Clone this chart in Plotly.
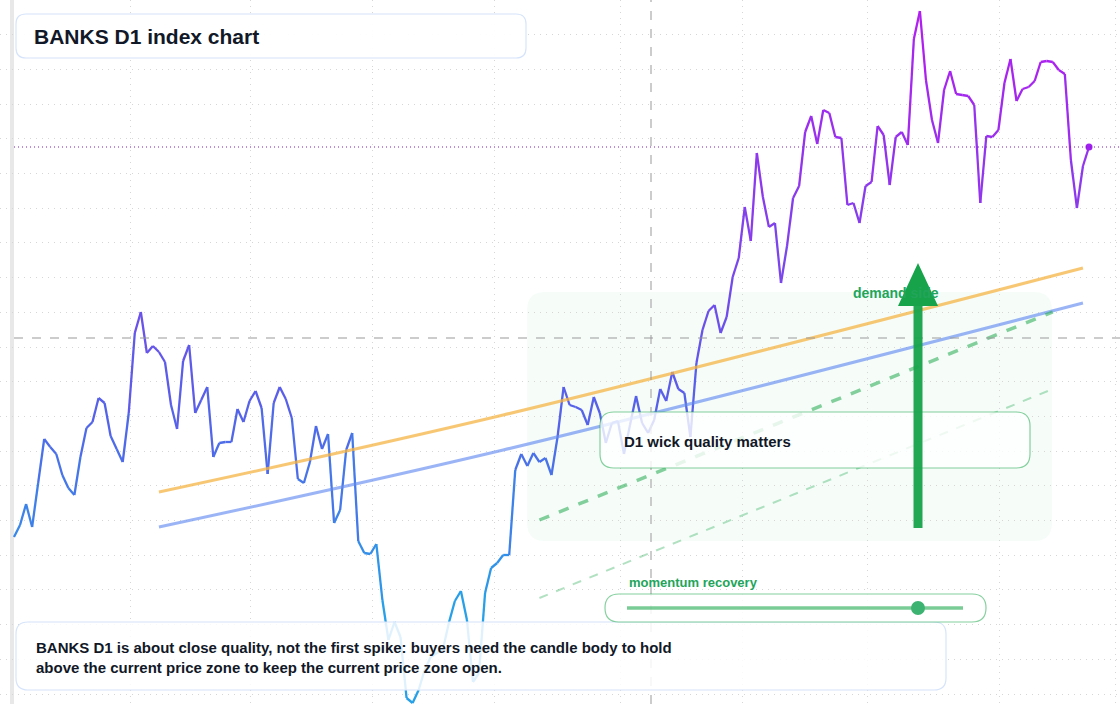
import plotly.graph_objects as go

W, H = 1120, 704

# closing values (chart units), one per D1 bar
close = [704 - y for y in [
    537, 525, 504, 527, 483, 439, 447, 454, 475, 488, 495, 457, 428, 422, 398, 403, 436, 449, 462, 413,
    333, 312, 353, 346, 352, 362, 405, 429, 361, 345, 413, 400, 387, 457, 443, 442, 442, 409, 422, 401,
    391, 408, 474, 403, 387, 399, 418, 479, 483, 462, 426, 449, 434, 523, 510, 450, 433, 541, 553, 554,
    544, 600, 640, 622, 637, 698, 703, 690, 670, 657, 653, 650, 623, 601, 591, 620, 682, 673, 593, 568,
    563, 555, 555, 470, 454, 466, 453, 462, 458, 475, 437, 387, 405, 407, 410, 425, 397, 413, 443, 423,
    421, 454, 425, 396, 423, 433, 420, 389, 401, 372, 389, 393, 437, 363, 330, 311, 305, 333, 317, 277,
    258, 207, 241, 153, 197, 227, 223, 283, 246, 198, 186, 132, 116, 144, 110, 113, 137, 138, 205, 203,
    223, 186, 182, 126, 135, 185, 137, 132, 145, 39, 11, 80, 120, 143, 90, 71, 94, 95, 96, 105,
    203, 136, 137, 130, 83, 59, 101, 89, 87, 81, 62, 61, 62, 70, 74, 160, 208, 166, 147]]

# trend channel (bar index, value)
upper_x = [24, 81, 177]
upper_y = [212, 289, 436]
lower_x = [24, 81, 177]
lower_y = [177, 254, 401]
support_x = [87, 172]
support_y = [184, 392]
support2_x = [87, 172]
support2_y = [106, 315]

n = len(close)
x0_px, x1_px = 14, 1089
step = (x1_px - x0_px) / (n - 1)
xr = [-x0_px / step, (W - x0_px) / step]


def bar_at(px):
    return (px - x0_px) / step


def mix(c1, c2, t):
    return "#%02x%02x%02x" % tuple(int(c1[i] + (c2[i] - c1[i]) * t) for i in range(3))


def line_color(v):
    cyan, blue, purple = (40, 160, 232), (88, 96, 232), (176, 32, 240)
    if v < 300:
        return mix(cyan, blue, max(0, (v - 100) / 200))
    return mix(blue, purple, min(1, (v - 300) / 360))


def rrect(x0, y0, x1, y1, r):
    # rounded rectangle in paper coords from pixel box
    X = lambda x: x / W
    Y = lambda y: 1 - y / H
    return (f"M{X(x0+r)},{Y(y0)} L{X(x1-r)},{Y(y0)} Q{X(x1)},{Y(y0)} {X(x1)},{Y(y0+r)} "
            f"L{X(x1)},{Y(y1-r)} Q{X(x1)},{Y(y1)} {X(x1-r)},{Y(y1)} L{X(x0+r)},{Y(y1)} "
            f"Q{X(x0)},{Y(y1)} {X(x0)},{Y(y1-r)} L{X(x0)},{Y(y0+r)} Q{X(x0)},{Y(y0)} {X(x0+r)},{Y(y0)} Z")


fig = go.Figure()

# price line, colored by level
for i in range(n - 1):
    fig.add_trace(go.Scatter(x=[i, i + 1], y=[close[i], close[i + 1]], mode="lines",
                             line=dict(color=line_color((close[i] + close[i + 1]) / 2), width=2.3),
                             hoverinfo="skip"))

fig.add_trace(go.Scatter(x=upper_x, y=upper_y, mode="lines", line=dict(color="rgba(245,180,70,0.75)", width=3, shape="spline")))
fig.add_trace(go.Scatter(x=lower_x, y=lower_y, mode="lines", line=dict(color="rgba(100,140,240,0.65)", width=3, shape="spline")))
fig.add_trace(go.Scatter(x=support_x, y=support_y, mode="lines", line=dict(color="rgba(34,170,80,0.55)", width=3.5, dash="dash")))
fig.add_trace(go.Scatter(x=support2_x, y=support2_y, mode="lines", line=dict(color="rgba(34,170,80,0.35)", width=2, dash="dash")))
fig.add_trace(go.Scatter(x=[n - 1], y=[close[-1]], mode="markers", marker=dict(color="#a020f0", size=7)))

shapes = [
    # left strip
    dict(type="rect", xref="paper", yref="paper", x0=10 / W, x1=14 / W, y0=0, y1=1, fillcolor="#e8e8e8", line_width=0, layer="below"),
    # demand zone
    dict(type="path", xref="paper", yref="paper", path=rrect(527, 292, 1052, 541, 18), fillcolor="rgba(34,197,94,0.04)", line_width=0, layer="below"),
    # crosshair
    dict(type="line", xref="x", yref="paper", x0=bar_at(651), x1=bar_at(651), y0=0, y1=1, line=dict(color="#999", width=1, dash="dash")),
    dict(type="line", xref="paper", yref="y", x0=14 / W, x1=1, y0=704 - 338, y1=704 - 338, line=dict(color="#999", width=1, dash="dash")),
    # last price
    dict(type="line", xref="paper", yref="y", x0=14 / W, x1=1, y0=close[-1], y1=close[-1], line=dict(color="#7a1fb0", width=1, dash="1px,3px")),
    # boxes
    dict(type="path", xref="paper", yref="paper", path=rrect(16, 14, 526, 58, 10), fillcolor="rgba(255,255,255,0.95)", line=dict(color="#d6e4fb", width=1.2)),
    dict(type="path", xref="paper", yref="paper", path=rrect(600, 412, 1030, 468, 14), fillcolor="rgba(255,255,255,0.8)", line=dict(color="rgba(34,170,80,0.55)", width=1.2)),
    dict(type="path", xref="paper", yref="paper", path=rrect(16, 622, 946, 690, 12), fillcolor="rgba(255,255,255,0.85)", line=dict(color="#d6e4fb", width=1.2)),
    dict(type="path", xref="paper", yref="paper", path=rrect(605, 594, 986, 622, 14), fillcolor="rgba(255,255,255,0.85)", line=dict(color="rgba(34,170,80,0.55)", width=1.2)),
    dict(type="line", xref="paper", yref="paper", x0=627 / W, x1=963 / W, y0=1 - 608 / H, y1=1 - 608 / H, line=dict(color="rgba(34,170,80,0.6)", width=3.5)),
    dict(type="circle", xref="paper", yref="paper", x0=911 / W, x1=925 / W, y0=1 - 601 / H, y1=1 - 615 / H, fillcolor="#3cb371", line_width=0),
    # arrow
    dict(type="line", xref="paper", yref="paper", x0=918 / W, x1=918 / W, y0=1 - 528 / H, y1=1 - 300 / H, line=dict(color="rgba(22,163,74,0.95)", width=9)),
    dict(type="path", xref="paper", yref="paper", path=f"M{898/W},{1-306/H} L{938/W},{1-306/H} L{918/W},{1-263/H} Z", fillcolor="#16a34a", line_width=0),
]

annotations = [
    dict(text="<b>BANKS D1 index chart</b>", x=32 / W, y=1 - 36 / H, xanchor="left", yanchor="middle", font=dict(size=21, color="#111827")),
    dict(text="<b>D1 wick quality matters</b>", x=622 / W, y=1 - 441 / H, xanchor="left", yanchor="middle", font=dict(size=15, color="#111827")),
    dict(text="<b>demand side</b>", x=851 / W, y=1 - 293 / H, xanchor="left", yanchor="middle", font=dict(size=14, color="#22a55a")),
    dict(text="<b>momentum recovery</b>", x=627 / W, y=1 - 582 / H, xanchor="left", yanchor="middle", font=dict(size=13, color="#22a55a")),
    dict(text="<b>BANKS D1 is about close quality, not the first spike: buyers need the candle body to hold<br>above the current price zone to keep the current price zone open.</b>",
         x=34 / W, y=1 - 657 / H, xanchor="left", yanchor="middle", align="left", font=dict(size=15, color="#111827")),
]
for a in annotations:
    a.update(xref="paper", yref="paper", showarrow=False)

grid_y = [704 - 34.7 * k for k in range(1, 21)]
grid_x = [bar_at(p) for p in [130, 250, 372, 494, 620, 742, 867, 999, 1120 - 5]]

fig.update_layout(
    width=W, height=H, margin=dict(l=0, r=0, t=0, b=0),
    paper_bgcolor="white", plot_bgcolor="white", showlegend=False,
    font=dict(family="Liberation Sans, Arial, sans-serif"),
    shapes=shapes, annotations=annotations,
    xaxis=dict(range=xr, tickvals=grid_x, showticklabels=False, showgrid=True, gridcolor="#d6d6d6", griddash="1px,5px", zeroline=False),
    yaxis=dict(range=[0, H], tickvals=grid_y, showticklabels=False, showgrid=True, gridcolor="#d6d6d6", griddash="1px,5px", zeroline=False),
)
fig.write_html("out.html", config={"displayModeBar": False},
               post_script="document.body.style.margin='0';document.body.style.overflow='hidden';")
